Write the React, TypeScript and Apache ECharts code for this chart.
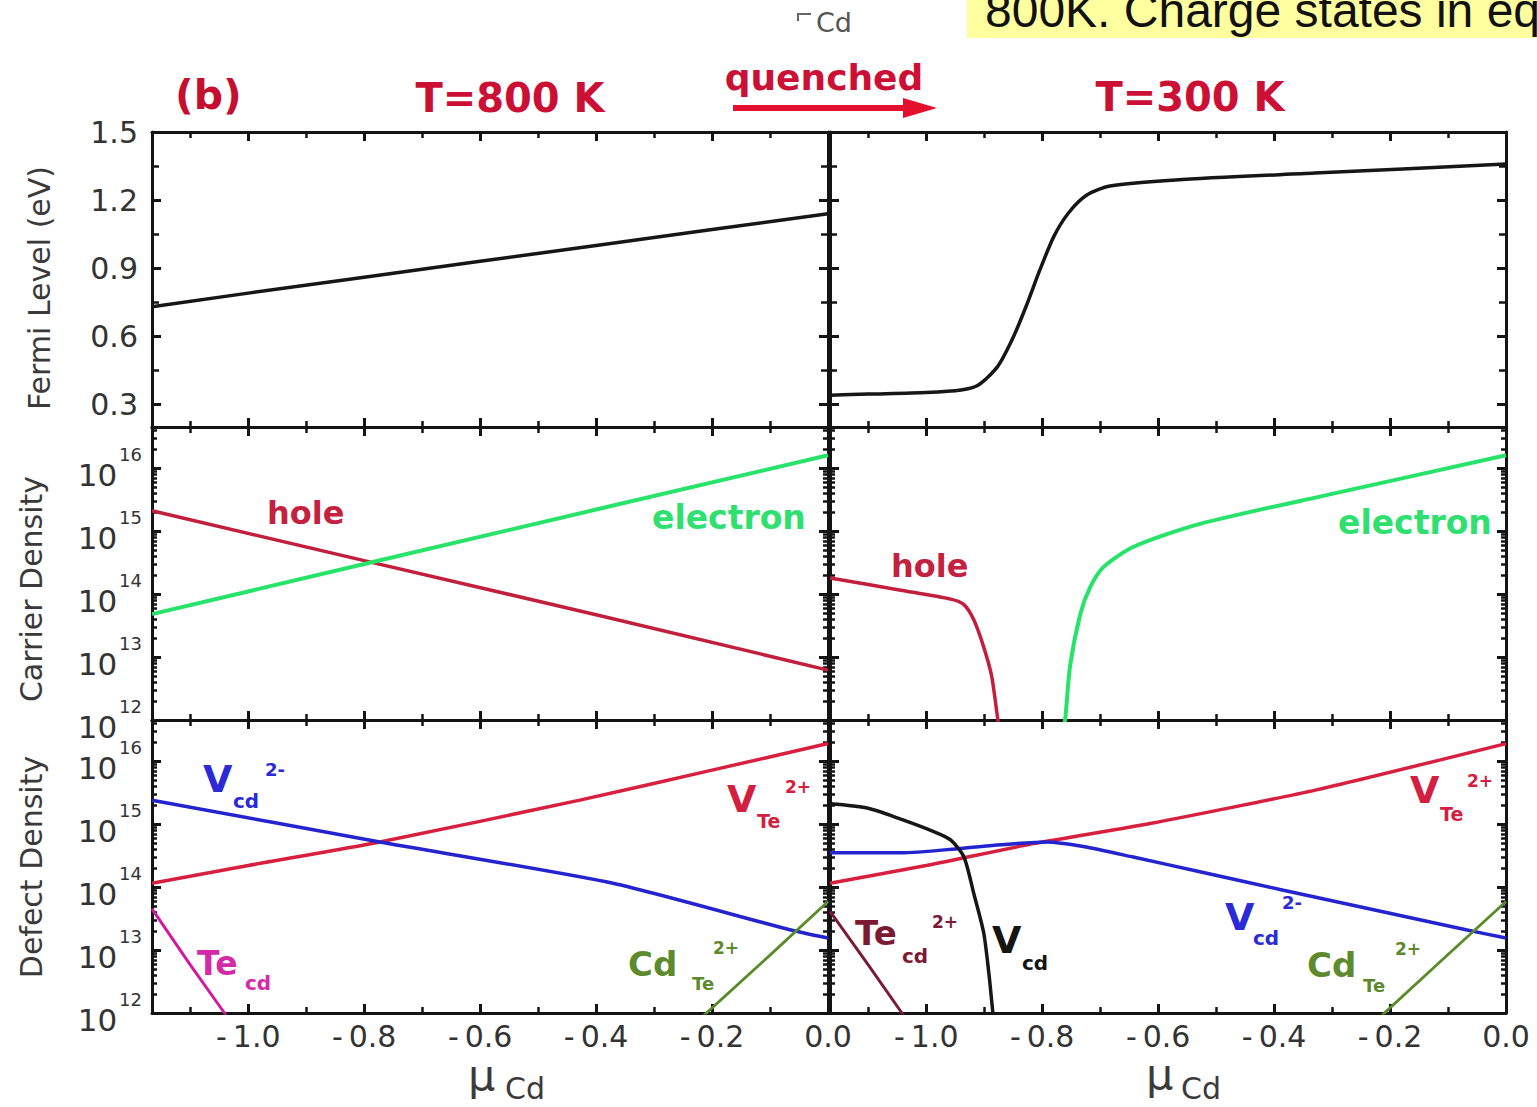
import React, { useEffect, useRef } from "react";
import * as echarts from "echarts";

// ---------------- axis ticks / labels ----------------
const XMIN = -1.166;
const xLabelValues = [-1.0, -0.8, -0.6, -0.4, -0.2, 0.0];
const xMinorValues = [-1.1, -0.9, -0.7, -0.5, -0.3, -0.1];
const fermiLabelValues = [0.3, 0.6, 0.9, 1.2, 1.5];
const fermiMinorValues = [0.45, 0.75, 1.05, 1.35];
const logDecades = [12, 13, 14, 15, 16];
const DENSITY_MIN = 1e12;
const DENSITY_MAX = 4.5e16;

// ---------------- Fermi level (eV) ----------------
const fermi800X = [-1.166, -1.0, -0.8, -0.6, -0.4, -0.2, 0.0];
const fermi800 = [0.73, 0.79, 0.86, 0.93, 1.0, 1.07, 1.14];
const fermi300X = [-1.166, -1.1, -1.0, -0.94, -0.91, -0.877, -0.852, -0.828, -0.804, -0.78, -0.755, -0.723, -0.683, -0.57, -0.33, 0.0];
const fermi300 = [0.34, 0.345, 0.352, 0.363, 0.385, 0.466, 0.584, 0.73, 0.892, 1.039, 1.142, 1.222, 1.262, 1.289, 1.319, 1.359];

// ---------------- Carrier density (cm^-3) ----------------
const carrier800X = [-1.166, -0.8, -0.4, 0.0];
const hole800 = [2.1e15, 3.4e14, 4.7e13, 6.2e12];
const electron800 = [4.8e13, 3.0e14, 2.2e15, 1.6e16];

const hole300X = [-1.166, -1.044, -0.958, -0.935, -0.918, -0.901, -0.887, -0.877, -0.872];
const hole300 = [1.8e14, 1.15e14, 8.3e13, 6.8e13, 3.9e13, 1.45e13, 4.9e12, 1.1e12, 6e11];
const electron300X = [-0.765, -0.76, -0.752, -0.734, -0.717, -0.694, -0.643, -0.528, -0.3, 0.0];
const electron300 = [6e11, 1.1e12, 7.1e12, 4.9e13, 1.3e14, 2.7e14, 5.6e14, 1.3e15, 3.9e15, 1.6e16];

// ---------------- Defect density (cm^-3) ----------------
const vTe800X = [-1.166, -1.0, -0.773, -0.428, -0.2, 0.0];
const vTe800 = [1.15e14, 2.2e14, 5.2e14, 2.4e15, 7.2e15, 1.9e16];
const vCd2m800X = [-1.166, -0.773, -0.371, -0.066, 0.0];
const vCd2m800 = [2.4e15, 5.2e14, 1.15e14, 2.1e13, 1.55e13];
const teCd800X = [-1.166, -1.1, -1.041, -1.03];
const teCd800 = [4.5e13, 5.8e12, 1.0e12, 7e11];
const cdTe800X = [-0.215, -0.1, 0.0];
const cdTe800 = [9e11, 8.3e12, 5.9e13];

const vTe300X = [-1.166, -1.0, -0.815, -0.614, -0.327, 0.0];
const vTe300 = [1.15e14, 2.2e14, 4.9e14, 1.02e15, 3.5e15, 1.9e16];
const vCd2m300X = [-1.166, -1.044, -0.941, -0.872, -0.792, -0.729, -0.643, -0.528, -0.384, -0.069, 0.0];
const vCd2m300 = [3.5e14, 3.5e14, 4.1e14, 4.7e14, 5.2e14, 4.4e14, 3.0e14, 1.75e14, 8.9e13, 2.1e13, 1.55e13];
const vCd0300X = [-1.166, -1.102, -1.044, -0.987, -0.958, -0.935, -0.918, -0.901, -0.892, -0.885, -0.882];
const vCd0300 = [2.1e15, 1.8e15, 1.2e15, 7.6e14, 5.6e14, 3.0e14, 7.9e13, 1.9e13, 4.3e12, 1.0e12, 6e11];
const teCd2p300X = [-1.166, -1.1, -1.042, -1.03];
const teCd2p300 = [4.1e13, 5.8e12, 1.0e12, 7e11];
const cdTe300X = [-0.215, -0.1, 0.0];
const cdTe300 = [9e11, 8.5e12, 5.9e13];

// ---------------- styling ----------------
const FONT = "DejaVu Sans";
const AX = "#141414";
const TXT = "#333333";
const RED_T = "#cc1035";
const HOLE = "#c21f3d";
const ELEC = "#27e36a";
const VTE = "#d81f3e";
const VCD2 = "#2323cf";
const TECD = "#d21a9e";
const CDTE = "#5a8b2a";
const TECD2 = "#7a1a33";
const BLACK = "#161616";

const LOG_MIN = Math.log10(DENSITY_MIN);
const LOG_MAX = Math.log10(DENSITY_MAX);
const logMinor: number[] = [];
for (const d of logDecades) {
  for (let k = 2; k <= 9; k++) {
    const v = d + Math.log10(k);
    if (v < LOG_MAX) logMinor.push(v);
  }
}

const grids = [
  { left: 152, top: 132, width: 676, height: 295 },
  { left: 830, top: 132, width: 676, height: 295 },
  { left: 152, top: 427, width: 676, height: 293 },
  { left: 830, top: 427, width: 676, height: 293 },
  { left: 152, top: 720, width: 676, height: 293 },
  { left: 830, top: 720, width: 676, height: 293 },
];

const fmtX = (v: number) => (Math.abs(v) < 1e-9 ? "0.0" : "-\u2009" + Math.abs(v).toFixed(1));

function makeXAxes(gi: number, showLabels: boolean) {
  const common = { type: "value", gridIndex: gi, min: XMIN, max: 0, splitLine: { show: false } };
  const line = { show: true, onZero: false, lineStyle: { color: AX, width: 3 } };
  const noLine = { show: false, onZero: false };
  const major = { show: true, inside: true, length: 9, customValues: xLabelValues, lineStyle: { color: AX, width: 3 } };
  const minor = { show: true, inside: true, length: 6, customValues: xMinorValues, lineStyle: { color: AX, width: 2.5 } };
  return [
    {
      ...common, position: "bottom", axisLine: line, axisTick: major,
      axisLabel: showLabels
        ? { show: true, customValues: xLabelValues, formatter: fmtX, margin: 8, fontSize: 30, fontFamily: FONT, color: TXT }
        : { show: false },
    },
    { ...common, position: "bottom", axisLine: noLine, axisTick: minor, axisLabel: { show: false } },
    { ...common, position: "top", axisLine: line, axisTick: major, axisLabel: { show: false } },
    { ...common, position: "top", axisLine: noLine, axisTick: minor, axisLabel: { show: false } },
  ];
}

function makeYAxes(gi: number, kind: "fermi" | "log", showLabels: boolean) {
  const isF = kind === "fermi";
  const common = { type: "value", gridIndex: gi, min: isF ? 0.2 : LOG_MIN, max: isF ? 1.5 : LOG_MAX, splitLine: { show: false } };
  const majorVals = isF ? fermiLabelValues : logDecades;
  const minorVals = isF ? fermiMinorValues : logMinor;
  const line = { show: true, onZero: false, lineStyle: { color: AX, width: 3 } };
  const noLine = { show: false, onZero: false };
  const major = { show: true, inside: true, length: 9, customValues: majorVals, lineStyle: { color: AX, width: 3 } };
  const minor = { show: true, inside: true, length: isF ? 7 : 5, customValues: minorVals, lineStyle: { color: AX, width: 2.5 } };
  const label = !showLabels
    ? { show: false }
    : isF
    ? { show: true, customValues: majorVals, formatter: (v: number) => v.toFixed(1), margin: 14, fontSize: 30, fontFamily: FONT, color: TXT }
    : {
        show: true,
        customValues: majorVals,
        margin: 10,
        formatter: (v: number) => `{b|10}{s|${Math.round(v)}}`,
        rich: {
          b: { fontSize: 31, fontFamily: FONT, color: TXT, padding: [14, 0, 0, 0] },
          s: { fontSize: 18, fontFamily: FONT, color: TXT, verticalAlign: "top", padding: [0, 0, 0, 2] },
        },
      };
  return [
    { ...common, position: "left", axisLine: line, axisTick: major, axisLabel: label },
    { ...common, position: "left", axisLine: noLine, axisTick: minor, axisLabel: { show: false } },
    { ...common, position: "right", axisLine: line, axisTick: major, axisLabel: { show: false } },
    { ...common, position: "right", axisLine: noLine, axisTick: minor, axisLabel: { show: false } },
  ];
}

function curve(gi: number, xs: number[], ys: number[], color: string, log: boolean, smooth = 0, width = 3.5) {
  return {
    type: "line",
    xAxisIndex: gi * 4,
    yAxisIndex: gi * 4,
    data: xs.map((x, i) => [x, log ? Math.log10(ys[i]) : ys[i]]),
    symbol: "none",
    showSymbol: false,
    smooth,
    clip: true,
    silent: true,
    lineStyle: { color, width },
  };
}

type Frag = [string, number, number, number];
function label(frags: Frag[], color: string, weight = "bold") {
  return frags.map(([t, x, y, s]) => ({
    type: "text",
    x,
    y,
    silent: true,
    style: { text: t, fill: color, fontSize: s, fontFamily: FONT, fontWeight: weight, align: "left", verticalAlign: "middle" },
  }));
}

function buildOption() {
  const xAxis: any[] = [];
  const yAxis: any[] = [];
  for (let gi = 0; gi < 6; gi++) {
    xAxis.push(...makeXAxes(gi, gi >= 4));
    yAxis.push(...makeYAxes(gi, gi < 2 ? "fermi" : "log", gi % 2 === 0));
  }

  const series = [
    curve(0, fermi800X, fermi800, BLACK, false),
    curve(1, fermi300X, fermi300, BLACK, false, 0.25),
    curve(2, carrier800X, hole800, HOLE, true),
    curve(2, carrier800X, electron800, ELEC, true, 0, 4),
    curve(3, hole300X, hole300, HOLE, true, 0.25),
    curve(3, electron300X, electron300, ELEC, true, 0.25, 4),
    curve(4, vTe800X, vTe800, VTE, true, 0.2),
    curve(4, vCd2m800X, vCd2m800, VCD2, true, 0.2),
    curve(4, teCd800X, teCd800, TECD, true, 0, 3),
    curve(4, cdTe800X, cdTe800, CDTE, true, 0, 2.8),
    curve(5, vTe300X, vTe300, VTE, true, 0.2),
    curve(5, vCd2m300X, vCd2m300, VCD2, true, 0.25),
    curve(5, vCd0300X, vCd0300, BLACK, true, 0.25),
    curve(5, teCd2p300X, teCd2p300, TECD2, true, 0, 3),
    curve(5, cdTe300X, cdTe300, CDTE, true, 0, 2.8),
  ];

  const axisTitle = (text: string, x: number, y: number) => ({
    type: "text",
    x,
    y,
    rotation: Math.PI / 2,
    silent: true,
    style: { text, fill: "#3a3a3a", fontSize: 30, fontFamily: FONT, align: "center", verticalAlign: "middle" },
  });

  const graphic: any[] = [
    { type: "rect", shape: { x: 967, y: 0, width: 570, height: 38 }, style: { fill: "#ffff9f" }, silent: true },
    {
      type: "text", x: 985, y: 10, silent: true,
      style: { text: "800K. Charge states in eq", fill: "#111", fontSize: 48, fontFamily: "Liberation Sans", align: "left", verticalAlign: "middle" },
    },
    { type: "polyline", shape: { points: [[798, 21], [798, 14], [811, 14]] }, style: { stroke: "#666", lineWidth: 2, fill: null }, silent: true },
    { type: "text", x: 816, y: 22, silent: true, style: { text: "Cd", fill: "#555", fontSize: 27, fontFamily: FONT, align: "left", verticalAlign: "middle" } },

    { type: "text", x: 175, y: 95, silent: true, style: { text: "(b)", fill: "#c50f30", fontSize: 41, fontFamily: FONT, fontWeight: "bold", align: "left", verticalAlign: "middle" } },
    { type: "text", x: 510, y: 98, silent: true, style: { text: "T=800 K", fill: RED_T, fontSize: 40, fontFamily: FONT, fontWeight: "bold", align: "center", verticalAlign: "middle" } },
    { type: "text", x: 824, y: 77, silent: true, style: { text: "quenched", fill: RED_T, fontSize: 36, fontFamily: FONT, fontWeight: "bold", align: "center", verticalAlign: "middle" } },
    { type: "line", shape: { x1: 733, y1: 108, x2: 910, y2: 108 }, style: { stroke: "#e3102e", lineWidth: 6 }, silent: true },
    { type: "polygon", shape: { points: [[903, 98], [937, 108], [903, 118]] }, style: { fill: "#e3102e" }, silent: true },
    { type: "text", x: 1190, y: 97, silent: true, style: { text: "T=300 K", fill: RED_T, fontSize: 40, fontFamily: FONT, fontWeight: "bold", align: "center", verticalAlign: "middle" } },

    axisTitle("Fermi Level (eV)", 39, 288),
    axisTitle("Carrier Density", 31, 589),
    axisTitle("Defect Density", 31, 867),

    ...label([["μ", 468, 1075, 43]], "#3a3a3a", "normal"),
    ...label([["Cd", 505, 1088, 30]], "#3a3a3a", "normal"),
    ...label([["μ", 1146, 1074, 43]], "#3a3a3a", "normal"),
    ...label([["Cd", 1181, 1088, 30]], "#3a3a3a", "normal"),

    ...label([["hole", 267, 513, 32]], "#c42040"),
    ...label([["electron", 652, 517, 33]], "#2fe070"),
    ...label([["hole", 891, 566, 32]], "#c42040"),
    ...label([["electron", 1338, 522, 33]], "#2fe070"),

    ...label([["V", 203, 779, 38], ["cd", 233, 801, 20], ["2-", 265, 769, 18]], "#2a2ad6"),
    ...label([["V", 727, 799, 38], ["Te", 757, 821, 19], ["2+", 785, 787, 17]], "#d42040"),
    ...label([["Te", 197, 963, 33], ["cd", 245, 983, 20]], "#d42aa8"),
    ...label([["Cd", 628, 964, 34], ["Te", 692, 983, 18], ["2+", 713, 948, 17]], "#5c8a2c"),

    ...label([["Te", 855, 933, 34], ["cd", 902, 956, 20], ["2+", 932, 922, 17]], "#7c1a34"),
    ...label([["V", 992, 940, 38], ["cd", 1022, 963, 20]], "#151515"),
    ...label([["V", 1410, 790, 38], ["Te", 1440, 814, 19], ["2+", 1467, 781, 17]], "#d42040"),
    ...label([["V", 1225, 917, 38], ["cd", 1253, 938, 20], ["2-", 1282, 902, 18]], "#2a2ad6"),
    ...label([["Cd", 1307, 965, 34], ["Te", 1363, 985, 18], ["2+", 1395, 949, 17]], "#5c8a2c"),
  ];

  return {
    animation: false,
    backgroundColor: "#ffffff",
    grid: grids.map((g) => ({ ...g, containLabel: false })),
    xAxis,
    yAxis,
    series,
    graphic: { elements: graphic },
  };
}

export default function App() {
  const ref = useRef<HTMLDivElement>(null);
  useEffect(() => {
    if (!ref.current) return;
    const chart = echarts.init(ref.current, undefined, { renderer: "svg" });
    chart.setOption(buildOption() as any);
    return () => chart.dispose();
  }, []);
  return (
    <div
      ref={ref}
      style={{ position: "absolute", left: 0, top: 0, width: 1537, height: 1107, background: "#fff" }}
    />
  );
}
